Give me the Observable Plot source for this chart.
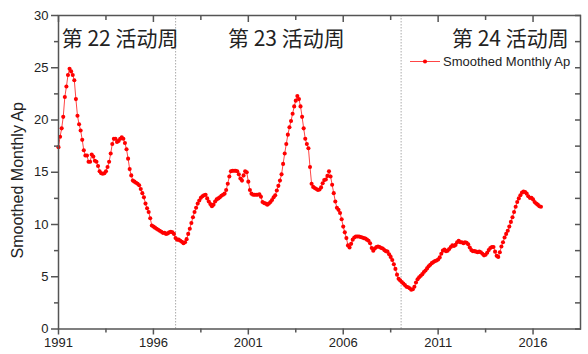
<!DOCTYPE html>
<html><head><meta charset="utf-8">
<script src="https://cdn.jsdelivr.net/npm/d3@7"></script>
<script src="https://cdn.jsdelivr.net/npm/@observablehq/plot@0.6"></script>
<style>
body{margin:0;background:#fff}
#chart svg{font-family:"Liberation Sans",Arial,sans-serif;overflow:visible}
</style>
</head><body><div id="chart"></div>
<script>
// Smoothed monthly Ap, one value per month starting January 1991
const startYear = 1991;
const apValues = [
17.4,18.4,19.2,20.3,22.2,23.2,24.3,24.9,24.65,24.3,
23.8,22.0,20.4,19.6,19.0,18.1,17.1,16.6,16.6,16.0,
16.0,16.7,16.5,16.1,16.0,15.6,15.1,14.9,14.85,14.9,
15.1,15.5,16.0,16.8,17.7,18.2,18.2,17.9,18.0,18.2,
18.35,18.2,17.8,17.2,16.3,15.3,14.7,14.2,14.1,14.0,
13.9,13.75,13.4,13.0,12.6,12.0,11.55,11.2,10.6,9.9,
9.8,9.7,9.6,9.5,9.4,9.3,9.2,9.2,9.1,9.15,
9.25,9.3,9.25,9.1,8.7,8.55,8.55,8.45,8.35,8.2,
8.3,8.6,9.1,9.6,10.15,10.7,11.2,11.6,12.0,12.3,
12.55,12.7,12.8,12.85,12.5,12.2,11.95,11.75,11.9,12.2,
12.4,12.5,12.6,12.75,12.85,12.95,13.3,13.9,14.6,15.1,
15.15,15.15,15.15,15.1,14.8,14.4,14.2,14.7,15.1,15.0,
14.1,13.3,12.95,12.85,12.85,12.85,12.85,12.9,12.65,12.15,
12.05,12.0,11.9,12.0,12.15,12.35,12.6,12.8,13.25,13.7,
14.2,14.8,15.8,16.8,17.7,18.6,19.3,19.9,20.6,21.3,
21.85,22.3,22.0,21.3,20.3,19.2,18.2,17.7,17.3,15.5,
13.9,13.6,13.5,13.4,13.3,13.35,13.55,13.95,14.25,14.3,
14.65,15.1,14.6,13.8,13.0,12.2,11.6,11.4,11.1,10.5,
9.8,9.25,8.7,8.0,7.8,8.15,8.55,8.75,8.85,8.85,
8.85,8.8,8.75,8.7,8.65,8.55,8.45,8.2,7.75,7.5,
7.7,7.85,7.9,7.85,7.75,7.7,7.55,7.45,7.4,7.15,
6.9,6.6,6.2,5.75,5.2,4.8,4.65,4.5,4.35,4.2,
4.05,4.0,3.9,3.75,3.8,4.05,4.45,4.75,4.95,5.1,
5.25,5.45,5.6,5.8,6.0,6.15,6.3,6.4,6.5,6.55,
6.65,6.85,7.2,7.5,7.6,7.45,7.5,7.65,7.85,8.0,
7.95,8.05,8.3,8.45,8.3,8.3,8.2,8.3,8.25,8.1,
7.8,7.55,7.45,7.45,7.4,7.35,7.4,7.35,7.2,7.05,
7.1,7.3,7.55,7.75,7.85,7.85,7.4,7.0,6.9,7.35,
7.9,8.3,8.75,9.1,9.4,9.8,10.25,10.7,11.2,11.7,
12.15,12.5,12.8,13.05,13.15,13.1,12.95,12.7,12.55,12.55,
12.4,12.15,12.0,11.9,11.75,11.7
];
const xDomain = [1991, 2018.5];
const yDomain = [0, 30];
const xMajorTicks = [1991, 1996, 2001, 2006, 2011, 2016];
const xMinorTicks = [1993.5, 1998.5, 2003.5, 2008.5, 2013.5];
const yMajorTicks = [0, 5, 10, 15, 20, 25, 30];
const yMinorTicks = [2.5, 7.5, 12.5, 17.5, 22.5, 27.5];
const yAllTicks = [0, 2.5, 5, 7.5, 10, 12.5, 15, 17.5, 20, 22.5, 25, 27.5, 30];
const cycleBoundaries = [1997.17, 2009.05];
const cycleNames = ["第 22 活动周", "第 23 活动周", "第 24 活动周"];
const cycleNameX = [1991.17, 1999.93, 2017.88];
const cycleNameY = [27.7, 27.7, 27.7];
const cycleNameAnchor = ["start", "start", "end"];
const yLabel = "Smoothed Monthly Ap";
const legendLabel = "Smoothed Monthly Ap";

const series = apValues.map((v, i) => ({t: startYear + i / 12, v}));
const cycles = cycleNames.map((name, i) => ({name, x: cycleNameX[i], y: cycleNameY[i], anchor: cycleNameAnchor[i]}));
const cjkFont = '"Noto Sans CJK SC", "Noto Sans", sans-serif';

const axisColor = "#555";
const plot = Plot.plot({
  width: 588, height: 354,
  marginLeft: 58, marginRight: 8, marginTop: 15, marginBottom: 25.5,
  style: {fontFamily: '"Liberation Sans", Arial, sans-serif', fontSize: "13px", color: "#222", background: "#fff"},
  x: {domain: xDomain, type: "linear"},
  y: {domain: yDomain},
  marks: [
    Plot.ruleX(cycleBoundaries, {stroke: "#aaa", strokeWidth: 1, strokeDasharray: "1.5,1.5"}),
    Plot.line(series, {x: "t", y: "v", stroke: "#ff3030", strokeWidth: 0.9}),
    Plot.dot(series, {x: "t", y: "v", r: 2.05, fill: "#ff0000", stroke: "none"}),
    // bottom axis
    Plot.axisX({anchor: "bottom", ticks: xMajorTicks, tickSize: 6, tickPadding: 3, tickFormat: d => String(d), stroke: axisColor, strokeWidth: 1.5, fontSize: 13, label: null}),
    Plot.axisX({anchor: "bottom", ticks: xMinorTicks, tickSize: 4, text: null, stroke: axisColor, strokeWidth: 1.5, label: null}),
    // top axis (inward ticks)
    Plot.axisX({anchor: "top", ticks: xMajorTicks, tickSize: -6, text: null, stroke: axisColor, strokeWidth: 1.5, label: null}),
    Plot.axisX({anchor: "top", ticks: xMinorTicks, tickSize: -4, text: null, stroke: axisColor, strokeWidth: 1.5, label: null}),
    // left axis
    Plot.axisY({anchor: "left", ticks: yMajorTicks, tickSize: 7, tickPadding: 3, stroke: axisColor, strokeWidth: 1.5, fontSize: 13, label: null}),
    Plot.axisY({anchor: "left", ticks: yMinorTicks, tickSize: 4, text: null, stroke: axisColor, strokeWidth: 1.5, label: null}),
    // right axis (inward ticks)
    Plot.axisY({anchor: "right", ticks: yAllTicks, tickSize: -6, text: null, stroke: axisColor, strokeWidth: 1.5, label: null}),
    Plot.frame({stroke: axisColor, strokeWidth: 1.5}),
    Plot.text([yLabel], {frameAnchor: "left", textAnchor: "middle", rotate: -90, dx: -41, dy: 8, fontSize: 16, fill: "#222"}),
    Plot.text(cycles.filter(d => d.anchor === "start"), {x: "x", y: "y", text: "name", textAnchor: "start", fontSize: 21, fill: "#222", fontFamily: cjkFont}),
    Plot.text(cycles.filter(d => d.anchor === "end"), {x: "x", y: "y", text: "name", textAnchor: "end", fontSize: 21, fill: "#222", fontFamily: cjkFont})
  ]
});
document.getElementById("chart").appendChild(plot);

// legend inside the top-right of the frame
const svg = d3.select(plot);
const lg = svg.append("g").attr("transform", "translate(410,61.5)");
lg.append("line").attr("x1", 0).attr("x2", 30).attr("y1", 0).attr("y2", 0).attr("stroke", "#ff3030").attr("stroke-width", 0.9);
lg.append("circle").attr("cx", 15).attr("cy", 0).attr("r", 2.05).attr("fill", "#ff0000");
lg.append("text").attr("x", 33).attr("y", 0).attr("dy", "0.35em").attr("text-anchor", "start")
  .attr("font-size", 13).attr("fill", "#222").text(legendLabel);
</script>
</body></html>
